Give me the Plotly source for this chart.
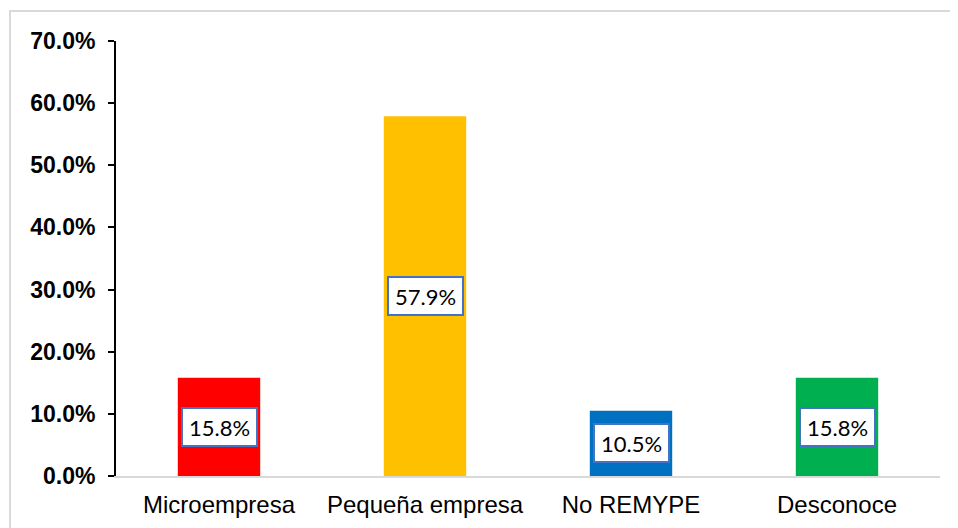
import plotly.graph_objects as go

categories = ["Microempresa", "Pequeña empresa", "No REMYPE", "Desconoce"]
values = [15.8, 57.9, 10.5, 15.8]
colors = ["#FF0000", "#FFC000", "#0070C0", "#00B050"]
tick_vals = [0, 10, 20, 30, 40, 50, 60, 70]
tick_text = ["0.0%", "10.0%", "20.0%", "30.0%", "40.0%", "50.0%", "60.0%", "70.0%"]

fig = go.Figure(go.Bar(x=categories, y=values, marker=dict(color=colors, line=dict(width=0)),
                       width=0.4, hoverinfo="skip"))

for c, v in zip(categories, values):
    fig.add_annotation(x=c, y=v / 2, text=f"{v:.1f}%", showarrow=False,
                       font=dict(family="Lato, Noto Sans", size=22, color="#000000"),
                       bgcolor="#FFFFFF", bordercolor="#4472C4", borderwidth=2,
                       borderpad=4, width=65, height=28)

fig.add_shape(type="rect", xref="paper", yref="paper", x0=-0.1286, y0=-0.3, x1=1.2, y1=1.069,
              line=dict(color="#D9D9D9", width=2), layer="below")

fig.update_layout(
    width=950, height=520,
    margin=dict(l=108, r=18, t=33, b=52),
    plot_bgcolor="#FFFFFF", paper_bgcolor="#FFFFFF",
    showlegend=False,
    bargap=0.6,
    font=dict(family="Liberation Sans, Arial", color="#000000"),
)
fig.update_yaxes(range=[0, 70], tickvals=tick_vals, ticktext=tick_text, automargin=False,
                 tickfont=dict(family="Liberation Sans, Arial", size=23, color="#000000", weight="bold"),
                 showgrid=False, zeroline=False, showline=True, linecolor="#000000", linewidth=2,
                 ticks="outside", ticklen=6, tickwidth=2, tickcolor="#000000", ticklabelstandoff=8)
fig.update_xaxes(tickfont=dict(family="Liberation Sans, Arial", size=24, color="#000000"),
                 automargin=False,
                 showgrid=False, showline=True, linecolor="#D9D9D9", linewidth=2, ticks="",
                 ticklabelstandoff=6)

fig.write_html("out.html")
